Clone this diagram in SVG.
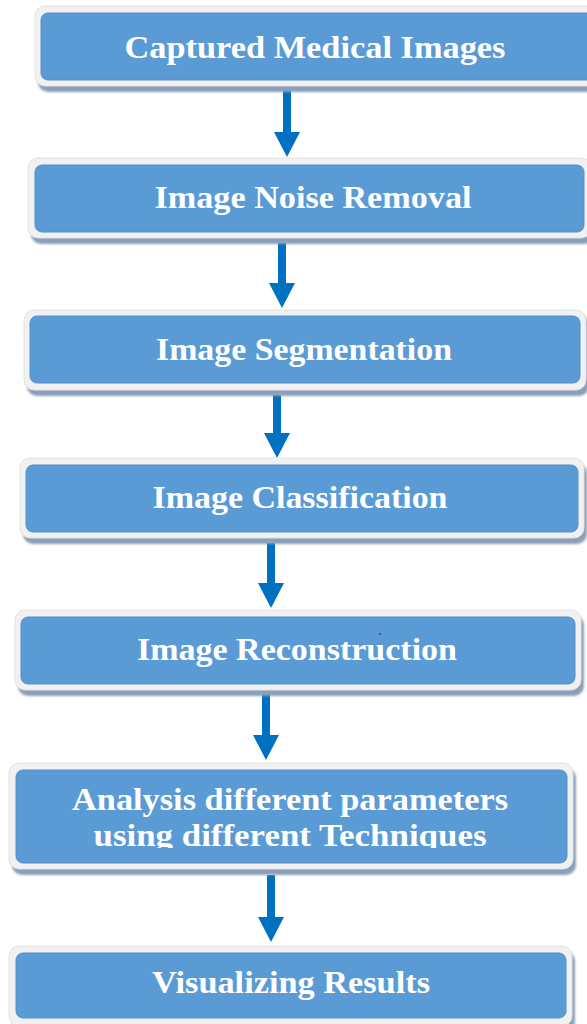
<svg xmlns="http://www.w3.org/2000/svg" width="587" height="1024" viewBox="0 0 587 1024">
<style>
.sh{fill:#8a9fba;filter:url(#b)}
.out{fill:#f1f1f1;stroke:#e2e2e2;stroke-width:1}
.in{fill:#5b9bd5;stroke:#5590cb;stroke-width:1}
.t{font-family:"Liberation Serif","Times New Roman",serif;font-weight:bold;font-size:31px;fill:#ffffff;text-anchor:middle}
.ln{stroke:#0070c0;stroke-width:8;fill:none}
.hd{fill:#0070c0}
</style>
<defs>
<filter id="b" x="-5%" y="-20%" width="110%" height="140%"><feGaussianBlur stdDeviation="1"/></filter>
<clipPath id="c6"><rect x="0" y="760" width="587" height="88"/></clipPath>
</defs>
<rect width="587" height="1024" fill="#ffffff"/>
<g id="connectors">
<line class="ln" x1="287" y1="90" x2="287" y2="135"/><polygon class="hd" points="274,132 300,132 287,157"/>
<line class="ln" x1="282" y1="243" x2="282" y2="286"/><polygon class="hd" points="269,283 295,283 282,308"/>
<line class="ln" x1="277" y1="395" x2="277" y2="436"/><polygon class="hd" points="264,433 290,433 277,458"/>
<line class="ln" x1="271" y1="543" x2="271" y2="586"/><polygon class="hd" points="258,583 284,583 271,608"/>
<line class="ln" x1="266" y1="693" x2="266" y2="738"/><polygon class="hd" points="253,735 279,735 266,760"/>
<line class="ln" x1="271" y1="875" x2="271" y2="920"/><polygon class="hd" points="258,917 284,917 271,942"/>
</g>
<g id="n1">
<rect class="sh" x="38" y="11" width="570" height="81" rx="10"/>
<rect class="out" x="35" y="6" width="570" height="80" rx="10"/>
<rect class="in" x="41" y="13" width="560" height="67" rx="7"/>
<text class="t" x="315" y="58" textLength="381" lengthAdjust="spacingAndGlyphs">Captured Medical Images</text>
</g>
<g id="n2">
<rect class="sh" x="31" y="163" width="563" height="81" rx="10"/>
<rect class="out" x="28" y="158" width="563" height="80" rx="10"/>
<rect class="in" x="35" y="165" width="549" height="67" rx="7"/>
<text class="t" x="313" y="208" textLength="317" lengthAdjust="spacingAndGlyphs">Image Noise Removal</text>
</g>
<g id="n3">
<rect class="sh" x="27" y="315" width="562" height="81" rx="10"/>
<rect class="out" x="24" y="310" width="562" height="80" rx="10"/>
<rect class="in" x="30" y="316" width="550" height="67" rx="7"/>
<text class="t" x="304" y="360" textLength="296" lengthAdjust="spacingAndGlyphs">Image Segmentation</text>
</g>
<g id="n4">
<rect class="sh" x="23" y="463" width="564" height="81" rx="10"/>
<rect class="out" x="20" y="458" width="564" height="80" rx="10"/>
<rect class="in" x="26" y="465" width="552" height="67" rx="7"/>
<text class="t" x="300" y="508" textLength="295" lengthAdjust="spacingAndGlyphs">Image Classification</text>
</g>
<g id="n5">
<rect class="sh" x="18" y="615" width="566" height="81" rx="10"/>
<rect class="out" x="15" y="610" width="566" height="80" rx="10"/>
<rect class="in" x="21" y="617" width="554" height="67" rx="7"/>
<text class="t" x="297" y="660" textLength="320" lengthAdjust="spacingAndGlyphs">Image Reconstruction</text>
<circle cx="380" cy="634" r="1" fill="#1f3fd0"/>
</g>
<g id="n6">
<rect class="sh" x="12" y="768" width="564" height="107" rx="10"/>
<rect class="out" x="9" y="763" width="564" height="106" rx="10"/>
<rect class="in" x="16" y="770" width="551" height="93" rx="7"/>
<text class="t" x="290" y="810" textLength="436" lengthAdjust="spacingAndGlyphs">Analysis different parameters</text>
<text class="t" x="290" y="846" textLength="393" lengthAdjust="spacingAndGlyphs" clip-path="url(#c6)">using different Techniques</text>
</g>
<g id="n7">
<rect class="sh" x="12" y="951" width="563" height="80" rx="10"/>
<rect class="out" x="9" y="946" width="563" height="80" rx="10"/>
<rect class="in" x="16" y="953" width="550" height="65" rx="7"/>
<text class="t" x="291" y="993" textLength="278" lengthAdjust="spacingAndGlyphs">Visualizing Results</text>
</g>
</svg>
